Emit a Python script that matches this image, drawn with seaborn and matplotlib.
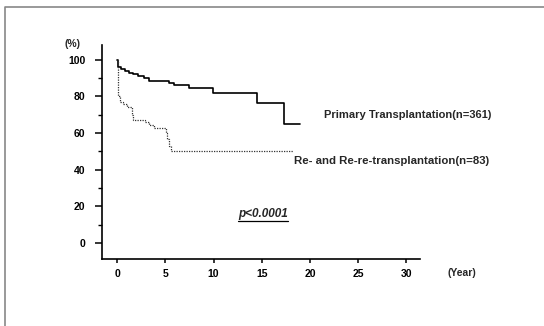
import matplotlib
matplotlib.use("Agg")
import matplotlib.pyplot as plt
from matplotlib.lines import Line2D
from matplotlib.ticker import MultipleLocator
import numpy as np
import pandas as pd
import seaborn as sns

# Kaplan-Meier step curves: time of each drop (years) and survival after it (%)
primary_time = [0, 0.1, 0.4, 0.8, 1.2, 1.7, 2.2, 2.8, 3.3, 5.4, 5.9, 7.5, 9.9, 14.5, 17.3, 19.0]
primary_surv = [100, 96, 95, 94, 93, 92, 91, 90, 88.5, 87.5, 86, 84.5, 82, 76.5, 65, 65]

retx_time = [0, 0.05, 0.1, 0.15, 0.3, 0.6, 1.0, 1.5, 1.7, 2.9, 3.3, 3.8, 5.05, 5.2, 5.35, 5.6, 18.2]
retx_surv = [100, 97, 88, 80, 77, 76, 74, 70, 67, 66, 64.5, 63, 60, 57, 53, 50, 50]

primary_label = "Primary Transplantation(n=361)"
retx_label = "Re- and Re-re-transplantation(n=83)"
p_label = "p<0.0001"

x_ticks = [0, 5, 10, 15, 20, 25, 30]
y_ticks = [0, 20, 40, 60, 80, 100]

primary_df = pd.DataFrame({"year": primary_time, "survival": primary_surv})
retx_df = pd.DataFrame({"year": retx_time, "survival": retx_surv})

sns.set_theme(style="ticks")
plt.rcParams["font.family"] = ["Liberation Sans", "DejaVu Sans"]
plt.rcParams["font.weight"] = "bold"

fig = plt.figure(figsize=(5.44, 3.26), dpi=100)
ax = fig.add_axes([102 / 544, 1 - 259 / 326, 318 / 544, 214 / 326])

sns.lineplot(data=primary_df, x="year", y="survival", ax=ax, estimator=None,
             sort=False, drawstyle="steps-post", color="black", linewidth=1.2)
sns.lineplot(data=retx_df, x="year", y="survival", ax=ax, estimator=None,
             sort=False, drawstyle="steps-post", color="#333333", linewidth=0.9,
             linestyle=(0, (1, 1)))

ax.set_xlim(-1.56, 31.4)
ax.set_ylim(-8.7, 108)
ax.set_xticks(x_ticks)
ax.set_yticks(y_ticks)
ax.yaxis.set_minor_locator(MultipleLocator(10))
ax.set_xlabel("")
ax.set_ylabel("")
sns.despine(ax=ax)
for s in ("left", "bottom"):
    ax.spines[s].set_color("black")
    ax.spines[s].set_linewidth(1.2)

ax.tick_params(axis="y", which="major", direction="out", length=5, width=1.1,
               pad=7, labelsize=7.5, colors="black")
ax.tick_params(axis="y", which="minor", direction="out", length=3, width=1.0,
               colors="black")
ax.tick_params(axis="x", which="major", direction="out", length=3, width=1.1,
               pad=4.5, labelsize=7.5, colors="black")
for lab in ax.get_xticklabels() + ax.get_yticklabels():
    lab.set_fontweight("bold")

ax.text(21.4, 70, primary_label, fontsize=8, fontweight="bold", va="center", ha="left")
ax.text(18.3, 44.8, retx_label, fontsize=8.2, fontweight="bold", va="center", ha="left")
ptxt = ax.text(12.55, 15.8, p_label, fontsize=8.5, fontweight="bold", style="italic",
               va="center", ha="left")
ax.text(34.2, -16.2, "(Year)", fontsize=7.5, fontweight="bold", va="center",
        ha="left", clip_on=False)
ax.text(-5.4, 108.7, "(%)", fontsize=7.5, fontweight="bold", va="center",
        ha="left", clip_on=False)

# underline under the p-value
fig.canvas.draw()
bb = ptxt.get_window_extent()
W, H = fig.get_size_inches() * fig.dpi
fig.add_artist(Line2D([bb.x0 / W, bb.x1 / W], [(bb.y0 - 1) / H] * 2,
                      transform=fig.transFigure, color="black", linewidth=0.9))

# grey frame along the top and left edges
fig.add_artist(Line2D([5 / 544, 5 / 544, 1.0], [0.0, 1 - 7 / 326, 1 - 7 / 326],
                      transform=fig.transFigure, color="#888888", linewidth=1.2))

fig.savefig("out.png", dpi=100)
